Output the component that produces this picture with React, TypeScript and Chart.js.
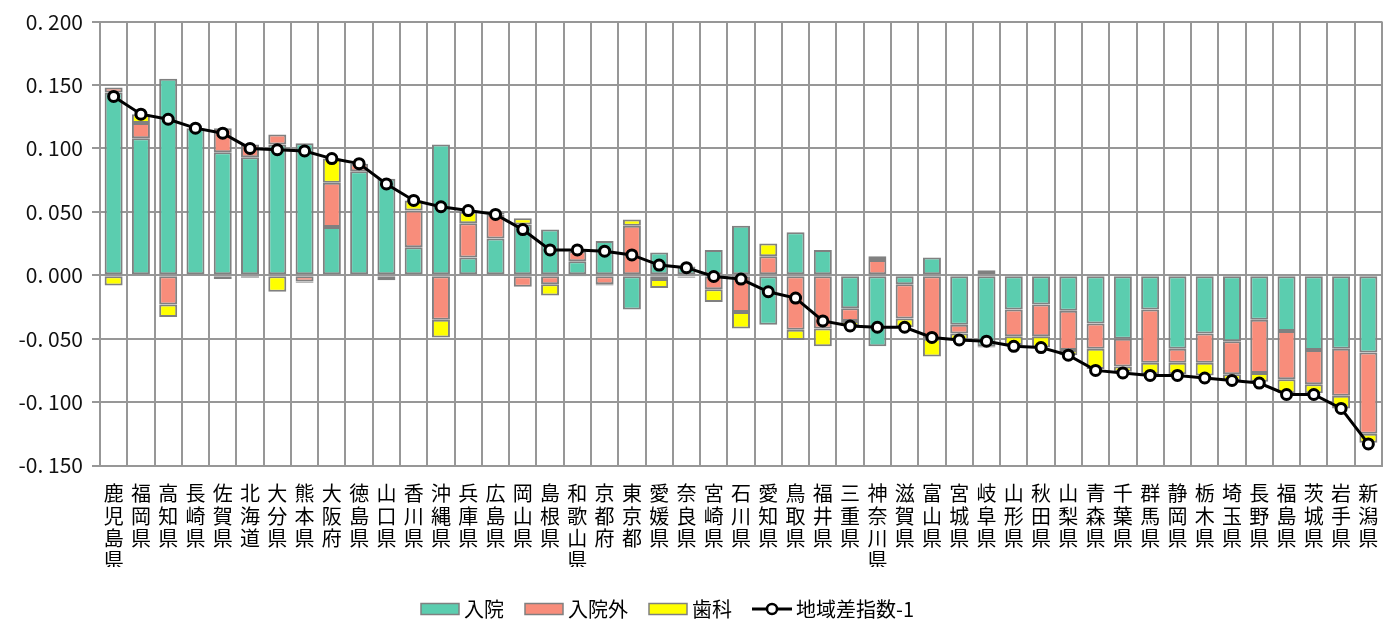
import React, { useEffect, useRef } from 'react';
import { Chart, registerables } from 'chart.js';

Chart.register(...registerables);

const prefectures = ['鹿児島県','福岡県','高知県','長崎県','佐賀県','北海道','大分県','熊本県','大阪府','徳島県','山口県','香川県','沖縄県','兵庫県','広島県','岡山県','島根県','和歌山県','京都府','東京都','愛媛県','奈良県','宮崎県','石川県','愛知県','鳥取県','福井県','三重県','神奈川県','滋賀県','富山県','宮城県','岐阜県','山形県','秋田県','山梨県','青森県','千葉県','群馬県','静岡県','栃木県','埼玉県','長野県','福島県','茨城県','岩手県','新潟県'];

const inpatient = [0.144,0.108,0.155,0.116,0.097,0.093,0.103,0.104,0.038,0.082,0.076,0.022,0.103,0.014,0.029,0.040,0.036,0.011,0.027,-0.027,0.018,0.007,0.020,0.039,-0.039,0.034,0.020,-0.026,-0.056,-0.007,0.014,-0.039,-0.056,-0.027,-0.023,-0.028,-0.038,-0.050,-0.027,-0.058,-0.046,-0.052,-0.035,-0.044,-0.059,-0.058,-0.061];

const outpatient = [0.004,0.012,-0.023,null,0.019,0.010,0.008,-0.005,0.035,0.006,-0.003,0.029,-0.035,0.027,0.019,-0.009,-0.007,0.008,-0.007,0.039,-0.003,-0.001,-0.011,-0.029,0.015,-0.043,-0.042,-0.010,0.012,-0.027,-0.050,-0.007,-0.001,-0.021,-0.025,-0.031,-0.020,-0.022,-0.042,-0.011,-0.023,-0.026,-0.042,-0.038,-0.027,-0.037,-0.064];

const dental = [-0.008,0.007,-0.010,null,-0.003,-0.002,-0.013,-0.001,0.019,null,-0.001,0.008,-0.014,0.009,0.001,0.005,-0.009,-0.001,-0.001,0.005,-0.007,-0.001,-0.010,-0.013,0.010,-0.008,-0.014,-0.004,0.003,-0.007,-0.014,-0.005,0.004,-0.007,-0.009,-0.004,-0.016,-0.004,-0.009,-0.009,-0.010,-0.005,-0.007,-0.011,-0.007,-0.010,-0.007];

const regionalIndex = [0.141,0.127,0.123,0.116,0.112,0.100,0.099,0.098,0.092,0.088,0.072,0.059,0.054,0.051,0.048,0.036,0.020,0.020,0.019,0.016,0.008,0.006,-0.001,-0.003,-0.013,-0.018,-0.036,-0.040,-0.041,-0.041,-0.049,-0.051,-0.052,-0.056,-0.057,-0.063,-0.075,-0.077,-0.079,-0.079,-0.081,-0.083,-0.085,-0.094,-0.094,-0.105,-0.133];

const seriesNames = ['入院', '入院外', '歯科', '地域差指数-1'];
const yMin = -0.15;
const yMax = 0.2;
const yStep = 0.05;

const GREEN = '#5BCDAF';
const PINK = '#F88D7B';
const YELLOW = '#FFFF00';
const GRID = '#979797';
const BAR_BORDER = '#808080';
const FONT = '"Noto Sans CJK JP", "Noto Sans", sans-serif';

function rectIcon(fill: string) {
  const c = document.createElement('canvas');
  c.width = 40;
  c.height = 14;
  const ctx = c.getContext('2d')!;
  ctx.fillStyle = fill;
  ctx.fillRect(1, 1.5, 38, 11);
  ctx.strokeStyle = BAR_BORDER;
  ctx.lineWidth = 1.5;
  ctx.strokeRect(1, 1.5, 38, 11);
  return c;
}

function lineIcon() {
  const c = document.createElement('canvas');
  c.width = 40;
  c.height = 16;
  const ctx = c.getContext('2d')!;
  ctx.strokeStyle = '#000';
  ctx.lineWidth = 3;
  ctx.beginPath();
  ctx.moveTo(0, 8);
  ctx.lineTo(40, 8);
  ctx.stroke();
  ctx.beginPath();
  ctx.arc(20, 8, 5, 0, Math.PI * 2);
  ctx.fillStyle = '#fff';
  ctx.fill();
  ctx.lineWidth = 2.5;
  ctx.stroke();
  return c;
}

function fmt(v: number) {
  const s = Math.abs(v) < 1e-9 ? '0.000' : v.toFixed(3);
  return s.replace('.', '. ');
}

export default function App() {
  const ref = useRef<HTMLCanvasElement | null>(null);

  useEffect(() => {
    document.body.style.margin = '0';
    const canvas = ref.current!;
    const icons = [rectIcon(GREEN), rectIcon(PINK), rectIcon(YELLOW), lineIcon()];
    const barCommon = {
      type: 'bar' as const,
      borderColor: BAR_BORDER,
      borderWidth: 2,
      borderSkipped: false as const,
      order: 1,
      stack: 'bars',
      barPercentage: 0.66,
      categoryPercentage: 1,
    };
    const legendShift = {
      id: 'legendShift',
      afterLayout(chart: any) {
        const lg = chart.legend;
        if (lg) {
          lg.right -= 42;
          lg.top += 6;
          lg.bottom += 6;
        }
      },
    };
    const chart = new Chart(canvas, {
      type: 'bar',
      data: {
        labels: prefectures.map((p) => Array.from(p)),
        datasets: [
          { ...barCommon, label: seriesNames[0], data: inpatient, backgroundColor: GREEN },
          { ...barCommon, label: seriesNames[1], data: outpatient, backgroundColor: PINK },
          { ...barCommon, label: seriesNames[2], data: dental, backgroundColor: YELLOW },
          {
            type: 'line',
            label: seriesNames[3],
            data: regionalIndex,
            borderColor: '#000',
            borderWidth: 3,
            pointRadius: 5,
            pointBorderWidth: 3,
            pointBackgroundColor: '#fff',
            pointBorderColor: '#000',
            order: 0,
            stack: 'line',
            tension: 0,
          } as any,
        ],
      },
      options: {
        responsive: false,
        animation: false,
        layout: { padding: { top: 19, right: 17, left: 0, bottom: 0 } },
        plugins: {
          tooltip: { enabled: false },
          legend: {
            position: 'bottom',
            labels: {
              font: { family: FONT, size: 20 },
              color: '#000',
              usePointStyle: true,
              pointStyleWidth: 28,
              boxHeight: 14,
              padding: 26,
              generateLabels: () =>
                seriesNames.map((name, i) => ({
                  text: name,
                  pointStyle: icons[i],
                  fillStyle: 'transparent',
                  strokeStyle: 'transparent',
                  lineWidth: 0,
                  hidden: false,
                  datasetIndex: i,
                  fontColor: '#000',
                })) as any,
            },
          },
        },
        scales: {
          x: {
            stacked: true,
            grid: { color: GRID, lineWidth: 2, drawTicks: false, offset: true },
            border: { color: GRID, width: 2 },
            ticks: {
              autoSkip: false,
              maxRotation: 0,
              minRotation: 0,
              padding: 17,
              color: '#000',
              font: { family: FONT, size: 20, lineHeight: 1.115 },
            },
            afterFit: (s: any) => {
              s.height = 101.5;
            },
          },
          y: {
            stacked: true,
            min: yMin,
            max: yMax,
            grid: { color: GRID, lineWidth: 2, tickLength: 8, tickColor: GRID },
            border: { color: GRID, width: 2 },
            ticks: {
              stepSize: yStep,
              padding: 9,
              color: '#111',
              font: { family: FONT, size: 21 },
              callback: (v: any) => fmt(Number(v)),
            },
            afterFit: (s: any) => {
              s.width = 100;
            },
          },
        },
      },
      plugins: [legendShift],
    });
    return () => chart.destroy();
  }, []);

  return (
    <div style={{ width: 1399, height: 623, position: 'relative' }}>
      <canvas ref={ref} width={1399} height={623} style={{ display: 'block' }} />
    </div>
  );
}
